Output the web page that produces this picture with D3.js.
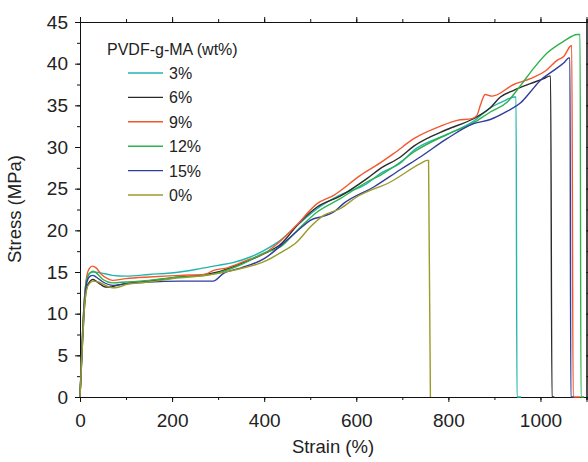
<!DOCTYPE html>
<html>
<head>
<meta charset="utf-8">
<script src="https://cdn.jsdelivr.net/npm/d3@7"></script>
<style>
  body { margin: 0; background: #fff; }
  text { font-family: Arial, "Liberation Sans", Helvetica, sans-serif; fill: #222; }
</style>
</head>
<body>
<div id="vis"></div>
<script>
// [strain (%), stress (MPa)]
const wt3 = [[0,0],[5,7],[10,12],[15,14.2],[22,14.9],[30,15.0],[45,14.9],[70,14.6],[100,14.5],[150,14.7],[217,15.0],[261,15.4],[300,15.8],[330,16.1],[370,16.8],[400,17.6],[435,18.8],[470,20.5],[515,22.6],[560,24.1],[623,25.6],[652,26.8],[696,28.1],[725,29.6],[797,31.5],[855,33.1],[891,34.7],[920,35.5],[943,36.0],[947,36.0],[949,0],[958,0]]
const wt6 = [[0,0],[5,6],[10,11],[15,13.2],[22,13.9],[28,14.1],[35,13.9],[45,13.5],[55,13.2],[65,13.2],[80,13.4],[100,13.6],[150,13.9],[217,14.4],[260,14.6],[300,15.0],[350,16.0],[400,17.2],[435,18.3],[478,21.0],[515,22.8],[565,24.1],[623,26.2],[652,27.4],[696,28.8],[725,30.1],[797,32.1],[851,33.3],[891,34.7],[913,36.0],[942,36.8],[978,37.6],[1007,38.2],[1020,38.5],[1022,38.5],[1025,0],[1030,0]]
const wt9 = [[0,0],[5,7],[10,12],[15,14.6],[20,15.4],[27,15.7],[35,15.5],[45,14.8],[60,14.2],[70,14.0],[100,14.2],[150,14.4],[217,14.6],[270,14.7],[290,15.2],[320,15.5],[362,16.4],[399,17.2],[435,18.7],[470,20.6],[515,23.2],[551,24.2],[609,26.6],[652,28.1],[681,29.2],[725,31.0],[783,32.5],[819,33.2],[851,33.4],[862,33.8],[870,35.1],[880,36.3],[895,36.1],[942,37.5],[978,38.2],[1015,39.3],[1036,40.4],[1051,40.9],[1065,42.1],[1068,42.2],[1071,0],[1087,0]]
const wt12 = [[0,0],[5,7],[10,12],[15,14.2],[22,14.9],[28,15.1],[35,14.9],[50,14.1],[70,13.7],[100,13.8],[150,14.0],[217,14.4],[260,14.5],[300,14.9],[350,15.9],[400,17.3],[435,18.0],[470,19.9],[515,22.2],[565,23.8],[623,25.8],[652,26.6],[696,28.2],[725,29.4],[797,31.5],[855,32.9],[891,34.2],[928,35.4],[957,37.4],[986,39.5],[1015,41.3],[1051,42.7],[1080,43.5],[1086,43.5],[1088,0],[1095,0]]
const wt15 = [[0,0],[5,6.5],[10,11.5],[15,13.8],[22,14.5],[28,14.6],[35,14.4],[50,13.8],[72,13.4],[100,13.6],[150,13.8],[217,13.9],[260,13.9],[289,13.9],[311,14.8],[350,15.5],[400,16.6],[449,18.8],[480,20.3],[500,21.2],[529,21.7],[551,22.2],[572,23.2],[638,25.2],[696,27.3],[739,28.8],[797,31.0],[855,32.8],[891,33.3],[928,34.3],[957,35.3],[978,36.6],[1000,38.0],[1029,39.2],[1051,40.1],[1062,40.7],[1064,40.7],[1066,0],[1072,0]]
const wt0 = [[0,0],[5,6],[10,11],[15,13],[22,13.7],[30,13.9],[40,13.8],[55,13.4],[70,13.1],[85,13.2],[100,13.5],[150,13.8],[217,14.3],[260,14.5],[333,15.2],[406,16.4],[435,17.3],[471,18.6],[500,20.4],[529,21.8],[565,22.6],[601,24.0],[674,25.8],[739,28.0],[754,28.4],[757,28.4],[761,0]]

const labels = ['3%', '6%', '9%', '12%', '15%', '0%']
const colors = ['#22b5ae', '#2a2a2a', '#f4572f', '#2db34b', '#2f3d9c', '#9c9a28']
const allSeries = [wt3, wt6, wt9, wt12, wt15, wt0]

const xTicks = [0, 200, 400, 600, 800, 1000]
const yTicks = [0, 5, 10, 15, 20, 25, 30, 35, 40, 45]

const margin = { top: 22, right: 1, bottom: 65, left: 80 };
const width = 588 - margin.left - margin.right;
const height = 462 - margin.top - margin.bottom;

const svg = d3.select('#vis')
    .append('svg')
    .attr('width', 588)
    .attr('height', 462)
    .append('g')
    .attr('transform', `translate(${margin.left},${margin.top})`);

const xScale = d3.scaleLinear().domain([0, 1100]).range([0, width - 0.5])
const yScale = d3.scaleLinear().domain([0, 45]).range([height, 0])

// minor ticks first, then major ones
function drawAxis(axis, transform, cls) {
    return svg.append('g').attr('class', cls).attr('transform', transform).call(axis)
}
const minorX = d3.range(0, 1101, 100)
const minorY = d3.range(0, 45.1, 2.5)

drawAxis(d3.axisBottom(xScale).tickValues(minorX).tickSize(3).tickFormat(''), `translate(0,${height})`, 'minor')
drawAxis(d3.axisTop(xScale).tickValues(minorX).tickSize(3).tickFormat(''), 'translate(0,0)', 'minor')
drawAxis(d3.axisLeft(yScale).tickValues(minorY).tickSize(3).tickFormat(''), 'translate(0,0)', 'minor')
drawAxis(d3.axisRight(yScale).tickValues(minorY).tickSize(3).tickFormat(''), `translate(${width - 0.5},0)`, 'minor')

drawAxis(d3.axisBottom(xScale).tickValues(xTicks).tickSize(5).tickPadding(12).tickFormat(d3.format('d')), `translate(0,${height})`, 'axis')
drawAxis(d3.axisLeft(yScale).tickValues(yTicks).tickSize(5).tickPadding(7), 'translate(0,0)', 'axis')
drawAxis(d3.axisTop(xScale).tickValues(xTicks).tickSize(5).tickFormat(''), 'translate(0,0)', 'axis')
drawAxis(d3.axisRight(yScale).tickValues(yTicks).tickSize(5).tickFormat(''), `translate(${width - 0.5},0)`, 'axis')

svg.selectAll('.axis text')
    .style('font-size', '19px')
    .style('font-family', 'Arial, "Liberation Sans", sans-serif')
    .attr('fill', '#222')
svg.selectAll('.axis path, .axis line, .minor path, .minor line').attr('stroke', '#111')

// curves
const line = d3.line()
    .x(d => xScale(d[0]))
    .y(d => yScale(d[1]))
    .curve(d3.curveMonotoneX)

svg.selectAll('.curve')
    .data(allSeries)
    .join('path')
    .attr('class', 'curve')
    .attr('d', line)
    .attr('fill', 'none')
    .attr('stroke', (d, i) => colors[i])
    .attr('stroke-width', 1.4)

// axis titles
svg.append('text')
    .attr('x', 253)
    .attr('y', height + 56)
    .attr('text-anchor', 'middle')
    .style('font-size', '18.5px')
    .text('Strain (%)')

svg.append('text')
    .attr('transform', 'rotate(-90)')
    .attr('x', -187)
    .attr('y', -59)
    .attr('text-anchor', 'middle')
    .style('font-size', '18.5px')
    .text('Stress (MPa)')

// legend
const legend = svg.append('g').attr('transform', 'translate(27,0)')
legend.append('text')
    .attr('x', 0)
    .attr('y', 33)
    .style('font-size', '16px')
    .text('PVDF-g-MA (wt%)')

labels.forEach((lab, i) => {
    const y = 51 + i * 24.4
    legend.append('line')
        .attr('x1', 21).attr('x2', 56)
        .attr('y1', y).attr('y2', y)
        .attr('stroke', colors[i])
        .attr('stroke-width', 1.4)
    legend.append('text')
        .attr('x', 62)
        .attr('y', y + 6)
        .style('font-size', '16px')
        .text(lab)
})
</script>
</body>
</html>
